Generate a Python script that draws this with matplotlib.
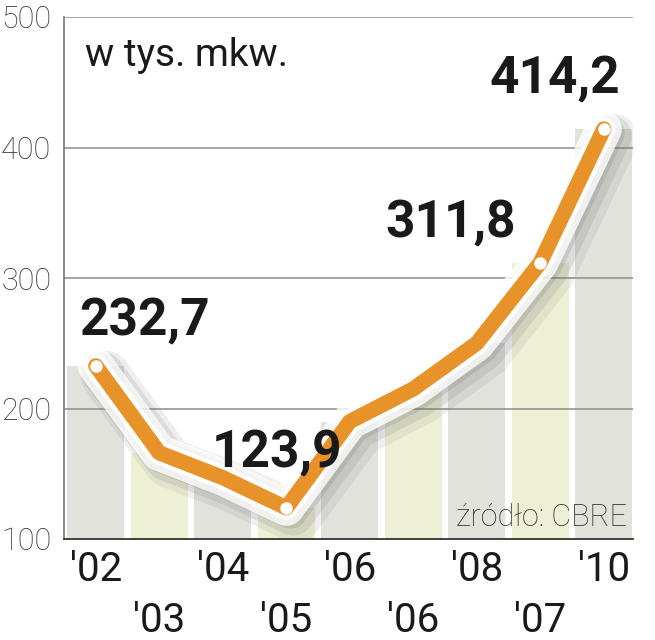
import matplotlib
matplotlib.use("Agg")
import matplotlib.pyplot as plt
import matplotlib.patheffects as pe
import numpy as np

# data (w tys. mkw.)
year_labels = ["'02", "'03", "'04", "'05", "'06", "'06", "'08", "'07", "'10"]
values = [232.7, 166, 147, 123.9, 190, 215, 250, 311.8, 414.2]
labelled = {0: "232,7", 3: "123,9", 7: "311,8", 8: "414,2"}
# label offsets in pixels relative to the point
label_offsets = {0: (49, 44), 3: (-9, 54), 7: (-90, 39), 8: (-49, 50)}

gray = "#e1e2dc"
yellow = "#eef0d5"
orange = "#e8922a"

plt.rcParams['font.family'] = ['Roboto', 'DejaVu Sans']

fig = plt.figure(figsize=(6.55, 6.40), dpi=100)
ax = fig.add_axes([64 / 655, 1 - 539 / 640, 569 / 655, 522 / 640])

x = np.arange(len(values))
colors = [gray if i % 2 == 0 else yellow for i in x]
ax.bar(x, values, width=0.9, color=colors, zorder=1)

for y in [200, 300, 400, 500]:
    ax.axhline(y, color="#8c8c8c", lw=1.1, zorder=1.5)

line, = ax.plot(x, values, color=orange, lw=11, zorder=4,
                solid_joinstyle='round', solid_capstyle='round')
line.set_path_effects([
    pe.SimpleLineShadow(offset=(7, -7), shadow_color='#6a6a6a', alpha=0.10, linewidth=36),
    pe.SimpleLineShadow(offset=(5, -5), shadow_color='#6a6a6a', alpha=0.14, linewidth=30),
    pe.SimpleLineShadow(offset=(3, -3), shadow_color='#6a6a6a', alpha=0.18, linewidth=24),
    pe.Stroke(linewidth=26, foreground='white', alpha=0.8, joinstyle='round', capstyle='round'),
    pe.Stroke(linewidth=17, foreground='white', joinstyle='round', capstyle='round'),
    pe.Normal(),
])

idx = sorted(labelled)
ax.plot([x[i] for i in idx], [values[i] for i in idx], 'o', color='white',
        markersize=9, markeredgewidth=0, zorder=5)

for i in idx:
    dx, dy = label_offsets[i]
    ax.annotate(labelled[i], (x[i], values[i]), xytext=(dx, dy),
                textcoords='offset pixels', ha='center', va='center',
                fontsize=37, fontweight='bold', color='#1a1a1a', zorder=6)

ax.set_xlim(-0.5, 8.46)
ax.set_ylim(100, 500)
ax.set_yticks([100, 200, 300, 400, 500])
ax.set_yticklabels(["100", "200", "300", "400", "500"], fontsize=22,
                   fontweight='light', color='#333333')
ax.set_xticks(x)
ax.set_xticklabels(year_labels, fontsize=29, color='#1a1a1a')
ax.tick_params(axis='both', length=0)
ax.tick_params(axis='y', pad=9)
for i, t in enumerate(ax.xaxis.get_major_ticks()):
    t.set_pad(8 if i % 2 == 0 else 45)

for s in ['top', 'right']:
    ax.spines[s].set_visible(False)
ax.spines['left'].set_color('#777777')
ax.spines['left'].set_linewidth(1.2)
ax.spines['bottom'].set_color('#222222')
ax.spines['bottom'].set_linewidth(1.2)
ax.spines['bottom'].set_zorder(3)

ax.text(0.037, 0.927, "w tys. mkw.", transform=ax.transAxes, fontsize=28,
        va='center', ha='left', color='#1a1a1a')
ax.text(0.989, 0.042, "źródło: CBRE", transform=ax.transAxes, fontsize=22,
        fontweight='light', va='center', ha='right', color='#333333', zorder=6)

fig.savefig("out.png", dpi=100)
